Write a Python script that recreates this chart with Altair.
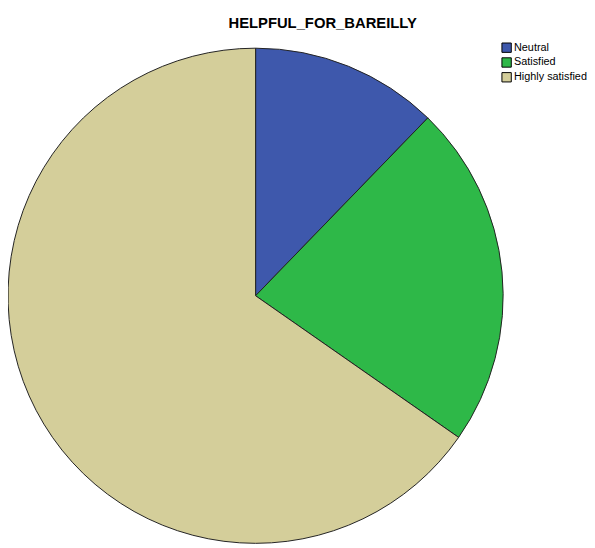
import altair as alt
import pandas as pd

categories = ["Neutral", "Satisfied", "Highly satisfied"]
counts = [6, 11, 32]
colors = ["#3E58AC", "#2EB848", "#D4CE9A"]
order = [1, 2, 3]

df = pd.DataFrame({"category": categories, "count": counts, "order": order})

pie = alt.Chart(df).mark_arc(
    stroke="#222222", strokeWidth=1, radius=251
).encode(
    theta=alt.Theta("count:Q", stack=True),
    color=alt.Color(
        "category:N",
        scale=alt.Scale(domain=categories, range=colors),
        legend=alt.Legend(
            title=None, orient="none", legendX=500, legendY=31,
            symbolType="square", symbolSize=90, symbolStrokeColor="#000000",
            symbolStrokeWidth=1, symbolOpacity=1, labelFontSize=11,
            labelFont="Liberation Sans", labelColor="#000000",
            rowPadding=0, symbolOffset=0, labelOffset=2, labelLimit=200,
            padding=0,
        ),
    ),
    order=alt.Order("order:Q"),
    x=alt.value(251),
    y=alt.value(288),
)

title_df = pd.DataFrame({"t": ["HELPFUL_FOR_BAREILLY"]})
title = alt.Chart(title_df).mark_text(
    font="Liberation Sans", fontSize=15, fontWeight="bold", color="#000000",
    align="center", baseline="middle"
).encode(text="t:N", x=alt.value(319), y=alt.value(12))

chart = alt.layer(pie, title).properties(
    width=587, height=540, autosize=alt.AutoSizeParams(type="none"),
    padding=0
).configure_view(stroke=None)

chart.save("out.html", embed_options={"renderer": "svg", "actions": False})
